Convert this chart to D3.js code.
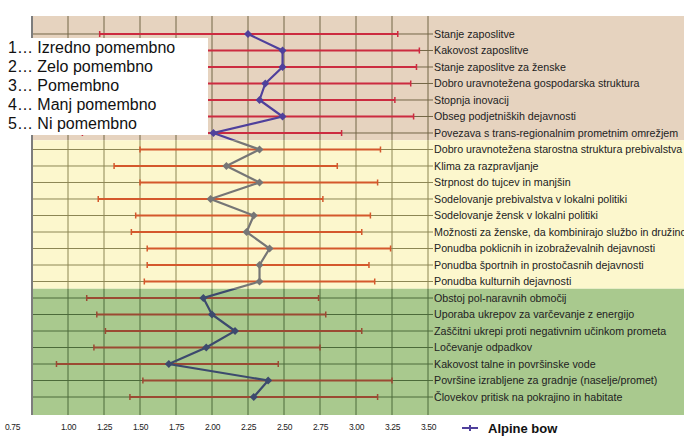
<!DOCTYPE html>
<html><head><meta charset="utf-8">
<script src="https://cdn.jsdelivr.net/npm/d3@7"></script>
<style>body{margin:0;background:#fff}svg{display:block;font-family:"Liberation Sans",Arial,sans-serif}</style>
</head><body><svg id="c" width="684" height="436"></svg>
<script>
const categories = [
"Stanje zaposlitve","Kakovost zaposlitve","Stanje zaposlitve za ženske","Dobro uravnotežena gospodarska struktura","Stopnja inovacij","Obseg podjetniških dejavnosti","Povezava s trans-regionalnim prometnim omrežjem",
"Dobro uravnotežena starostna struktura prebivalstva","Klima za razpravljanje","Strpnost do tujcev in manjšin","Sodelovanje prebivalstva v lokalni politiki","Sodelovanje žensk v lokalni politiki","Možnosti za ženske, da kombinirajo službo in družino","Ponudba poklicnih in izobraževalnih dejavnosti","Ponudba športnih in prostočasnih dejavnosti","Ponudba kulturnih dejavnosti",
"Obstoj pol-naravnih območij","Uporaba ukrepov za varčevanje z energijo","Zaščitni ukrepi proti negativnim učinkom prometa","Ločevanje odpadkov","Kakovost talne in površinske vode","Površine izrabljene za gradnje (naselje/promet)","Človekov pritisk na pokrajino in habitate"];
const means = [2.25,2.49,2.49,2.37,2.33,2.49,2.01, 2.33,2.10,2.33,1.99,2.29,2.24,2.40,2.33,2.33, 1.94,2.00,2.16,1.96,1.70,2.39,2.29];
const lows  = [1.22,1.20,1.25,1.20,1.30,1.20,1.10, 1.50,1.32,1.50,1.21,1.47,1.44,1.55,1.55,1.53, 1.13,1.20,1.26,1.18,0.92,1.52,1.43];
const highs = [3.29,3.44,3.42,3.38,3.27,3.40,2.90, 3.17,2.87,3.15,2.77,3.10,3.04,3.24,3.09,3.13, 2.74,2.79,3.04,2.75,2.46,3.25,3.15];
const sectionSizes = [7,9,7];
const xTicks = [0.75,1.00,1.25,1.50,1.75,2.00,2.25,2.50,2.75,3.00,3.25,3.50];
const scaleLegend = ["1… Izredno pomembno","2… Zelo pomembno","3… Pomembno","4… Manj pomembno","5… Ni pomembno"];
const seriesName = "Alpine bow";

const styles = [
  {bg:"#e6d3bf", grid:"#736646", bar:"#cc2b40", line:"#4f409c"},
  {bg:"#fcf7cd", grid:"#8c8654", bar:"#d4582c", line:"#767676"},
  {bg:"#a9c98e", grid:"#4c6a3a", bar:"#9b4a33", line:"#3c4a6e"}
];

const svg = d3.select("#c");
const x = d3.scaleLinear().domain([0.75,3.5]).range([32,428]);
const y = d3.scalePoint().domain(categories).range([16,415]).padding(1.09);
const yTop = 16, yBottom = 415;

let bounds = [yTop]; let idx = 0;
sectionSizes.forEach((s,i)=>{ idx += s; if(i<sectionSizes.length-1){ bounds.push((y(categories[idx-1])+y(categories[idx]))/2 - 1);} });
bounds.push(yBottom);

const defs = svg.append("defs");
sectionSizes.forEach((s,i)=>{
  defs.append("clipPath").attr("id","clip"+i).append("rect")
    .attr("x",0).attr("y",bounds[i]).attr("width",684).attr("height",bounds[i+1]-bounds[i]);
});

sectionSizes.forEach((s,i)=>{
  svg.append("rect").attr("x",x(0.75)).attr("y",bounds[i]).attr("width",684-x(0.75)).attr("height",bounds[i+1]-bounds[i]).attr("fill",styles[i].bg);
});

const data = categories.map((c,i)=>({c, m:means[i], lo:lows[i], hi:highs[i]}));
let start = 0;
sectionSizes.forEach((s,i)=>{
  const st = styles[i];
  const g = svg.append("g").attr("clip-path",`url(#clip${i})`);
  g.selectAll("line.v").data(xTicks).join("line")
    .attr("x1",d=>x(d)).attr("x2",d=>x(d)).attr("y1",yTop).attr("y2",yBottom)
    .attr("stroke",st.grid).attr("stroke-width",1);
  g.selectAll("line.h").data(categories).join("line")
    .attr("x1",x(0.75)).attr("x2",433).attr("y1",d=>y(d)).attr("y2",d=>y(d))
    .attr("stroke",st.grid).attr("stroke-width",1);
  const rows = data.slice(start,start+s);
  g.selectAll("line.e").data(rows).join("line")
    .attr("x1",d=>x(d.lo)).attr("x2",d=>x(d.hi)).attr("y1",d=>y(d.c)).attr("y2",d=>y(d.c))
    .attr("stroke",st.bar).attr("stroke-width",2);
  ["lo","hi"].forEach(k=>{
    g.selectAll("line.cap"+k).data(rows).join("line")
      .attr("x1",d=>x(d[k])).attr("x2",d=>x(d[k])).attr("y1",d=>y(d.c)-3).attr("y2",d=>y(d.c)+3)
      .attr("stroke",st.bar).attr("stroke-width",1.5);
  });
  g.append("path").datum(data)
    .attr("d",d3.line().x(d=>x(d.m)).y(d=>y(d.c)))
    .attr("fill","none").attr("stroke",st.line).attr("stroke-width",2.2);
  g.selectAll("path.dm").data(data).join("path")
    .attr("d",d3.symbol(d3.symbolDiamond2,40))
    .attr("transform",d=>`translate(${x(d.m)},${y(d.c)})`)
    .attr("fill",st.line);
  start += s;
});

svg.append("line").attr("x1",x(0.75)).attr("x2",x(0.75)).attr("y1",yTop).attr("y2",yBottom)
  .attr("stroke","#7d7d7d").attr("stroke-width",2);

const yAx = svg.append("g").attr("transform",`translate(430,0)`)
  .call(d3.axisRight(y).tickSize(0).tickPadding(4));
yAx.select(".domain").remove();
yAx.selectAll("text").attr("font-size",10.7).attr("fill","#222").attr("font-family","Liberation Sans, Arial, sans-serif");

const xAx = svg.append("g").attr("transform",`translate(0,${yBottom})`)
  .call(d3.axisBottom(x).tickValues(xTicks).tickFormat(d3.format(".2f")).tickSize(0).tickPadding(9));
xAx.select(".domain").remove();
xAx.selectAll("text").attr("font-size",8.5).attr("fill","#222").attr("letter-spacing","-0.4px")
  .attr("font-family","Liberation Sans, Arial, sans-serif");
xAx.selectAll(".tick").filter(d=>d===0.75).select("text").attr("dx",-20);

const lg = svg.append("g");
lg.append("rect").attr("x",0).attr("y",38).attr("width",208).attr("height",97).attr("fill","#fff");
lg.selectAll("text").data(scaleLegend).join("text")
  .attr("x",8).attr("y",(d,i)=>53+i*19).attr("font-size",16).attr("fill","#111").text(d=>d);

const sl = svg.append("g").attr("transform","translate(462,428)");
sl.append("line").attr("x1",0).attr("x2",16).attr("stroke","#4f409c").attr("stroke-width",2);
sl.append("line").attr("x1",8).attr("x2",8).attr("y1",-3).attr("y2",3).attr("stroke","#4f409c").attr("stroke-width",2);
sl.append("text").attr("x",26).attr("y",5).attr("font-size",13).attr("font-weight","bold").attr("fill","#111").text(seriesName);
</script></body></html>
